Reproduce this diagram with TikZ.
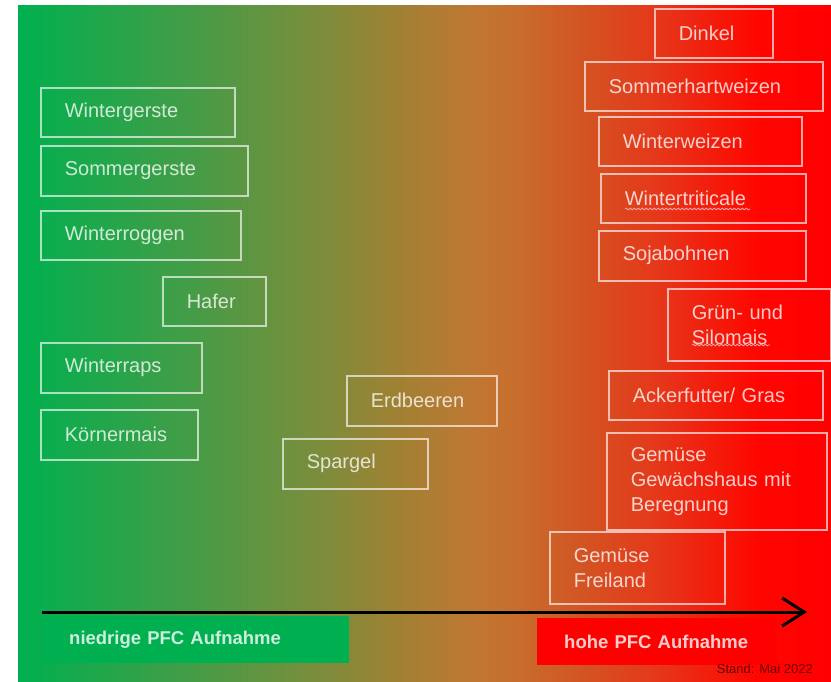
\documentclass[tikz,border=0pt]{standalone}
\usepackage{fontspec}
\setmainfont{Liberation Sans}
\usetikzlibrary{arrows.meta, decorations.pathmorphing}

\definecolor{gruen}{RGB}{0,176,80}
\definecolor{rot}{RGB}{255,0,0}
\definecolor{standrot}{RGB}{105,0,0}
\definecolor{welle}{RGB}{250,160,160}

\pgfdeclarehorizontalshading{pfcverlauf}{100bp}{
    rgb(0bp)=(0,.69,.31); rgb(25bp)=(0,.69,.31);
    rgb(35.9bp)=(.275,.61,.275); rgb(43.8bp)=(.49,.55,.235);
    rgb(47.7bp)=(.61,.51,.2); rgb(52.8bp)=(.745,.47,.2);
    rgb(55.6bp)=(.785,.43,.175); rgb(59.6bp)=(.825,.333,.137);
    rgb(64.4bp)=(.9,.215,.1); rgb(70.6bp)=(1,.02,0);
    rgb(75bp)=(1,0,0); rgb(100bp)=(1,0,0)}

\newcommand{\kulturschrift}{\fontsize{20}{25}\selectfont}
\newcommand{\feldschrift}{\fontsize{18.5}{22}\selectfont\bfseries}

\tikzset{
    kultur/.style 2 args={draw=white, draw opacity=.65, text=white, text opacity=.78,
        line width=1.6pt, anchor=north west, inner xsep=24pt, inner ysep=0pt,
        align=left, font=\kulturschrift, text width=#1, minimum height=#2},
    pfcfeld/.style 2 args={fill=#1, text=white, text opacity=.8, font=\feldschrift,
        anchor=north west, inner xsep=27pt, inner ysep=0pt, align=left,
        text width=#2, minimum height=47pt},
    pfcpfeil/.style={line width=3pt, -{Straight Barb[length=22pt, width=28pt]}},
    rechtschreib/.style={welle, line width=.8pt, decorate,
        decoration={snake, amplitude=.9pt, segment length=4pt}}
}

\begin{document}
\begin{tikzpicture}[x=1pt, y=-1pt]
        \useasboundingbox (0,0) rectangle (831,681);
        \shade[shading=pfcverlauf] (18,5) rectangle (831,681);

        % rechts: hohe Aufnahme
        \node[kultur={70pt}{49pt}] (dinkel) at (654,8) {Dinkel};
        \node[kultur={190pt}{49pt}] (sommerhart) at (584,61) {Sommerhartweizen};
        \node[kultur={155pt}{49pt}] (winterweizen) at (598,116) {Winterweizen};
        \node[kultur={157pt}{49pt}] (triticale) at (600,173) {Wintertriticale};
        \node[kultur={159pt}{50pt}] (soja) at (598,230) {Sojabohnen};
        \node[kultur={115pt}{72pt}] (silomais) at (667,288) {Grün- und\\Silomais};
        \node[kultur={166pt}{49pt}] (ackerfutter) at (608,370) {Ackerfutter/ Gras};
        \node[kultur={172pt}{97pt}] (gewaechshaus) at (606,432) {Gemüse\\Gewächshaus mit\\Beregnung};
        \node[kultur={127pt}{72pt}] (freiland) at (549,531) {Gemüse\\Freiland};

        \draw[rechtschreib] (625,209) -- (750,209);
        \draw[rechtschreib] (692,345) -- (770,345);

        % links: niedrige Aufnahme
        \node[kultur={146pt}{49pt}] (wgerste) at (40,87) {Wintergerste};
        \node[kultur={159pt}{50pt}] (sgerste) at (40,145) {Sommergerste};
        \node[kultur={152pt}{49pt}] (wroggen) at (40,210) {Winterroggen};
        \node[kultur={55pt}{49pt}] (hafer) at (162,276) {Hafer};
        \node[kultur={113pt}{50pt}] (wraps) at (40,342) {Winterraps};
        \node[kultur={109pt}{50pt}] (koernermais) at (40,409) {Körnermais};

        % mitte
        \node[kultur={102pt}{50pt}] (erdbeeren) at (346,375) {Erdbeeren};
        \node[kultur={97pt}{50pt}] (spargel) at (282,438) {Spargel};

        \coordinate (links) at (42,612);
        \coordinate (rechts) at (807,612);
        \draw[pfcpfeil] (links) -- (rechts);

        \node[pfcfeld={gruen}{253pt}] (niedrig) at (42,616) {niedrige PFC Aufnahme};
        \node[pfcfeld={rot}{186pt}] (hoch) at (537,618) {hohe PFC Aufnahme};

        \node[anchor=east, inner sep=0pt, text=standrot, font=\fontsize{13}{15}\selectfont] (stand) at (813,669) {Stand: Mai 2022};
\end{tikzpicture}
\end{document}
